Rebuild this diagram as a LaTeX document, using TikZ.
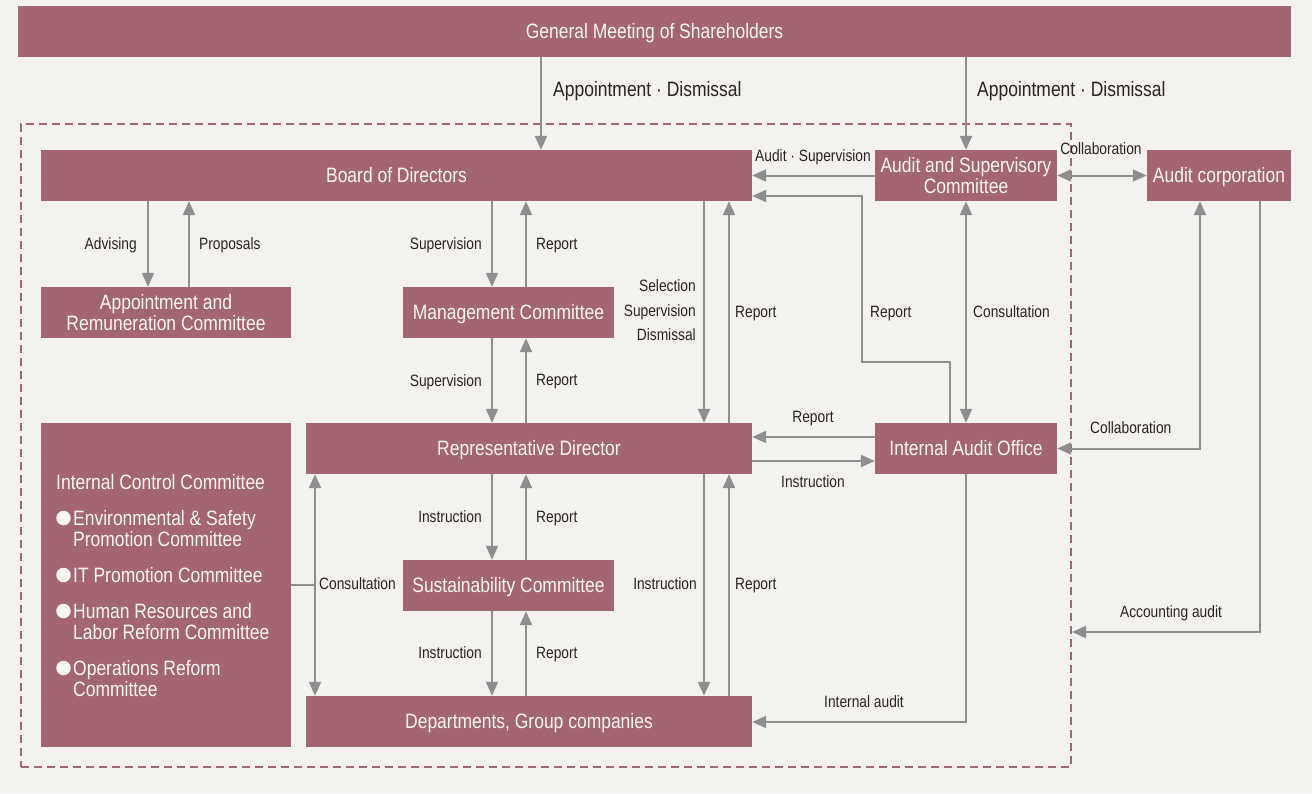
\documentclass[tikz,border=0pt]{standalone}
\usepackage{fontspec}
\setmainfont{Liberation Sans}[FakeStretch=0.84]
\usetikzlibrary{arrows.meta}
\definecolor{boxc}{HTML}{A36570}
\definecolor{bgc}{HTML}{F4F2EE}
\definecolor{arrc}{HTML}{8E8E8E}
\definecolor{txtc}{HTML}{2A2421}
\definecolor{wtxt}{HTML}{FAF6F4}
\begin{document}
\begin{tikzpicture}[x=1pt,y=-1pt,
  orgbox/.style={fill=boxc, text=wtxt, inner sep=0pt, font=\fontsize{20.8}{21}\selectfont, align=center},
  onel/.style={text height=14.9pt, text depth=0pt},
  lbl/.style={text=txtc, inner sep=0pt, font=\fontsize{16.4}{21}\selectfont, text height=11.7pt, text depth=0pt},
  lblbig/.style={text=txtc, inner sep=0pt, font=\fontsize{20.8}{21}\selectfont, text height=14.9pt, text depth=0pt},
  itemtxt/.style={text=wtxt, inner sep=0pt, font=\fontsize{20.8}{21}\selectfont, align=left, anchor=north west},
  bul/.style={circle, fill=wtxt, minimum size=14.5pt, inner sep=0pt},
  tipa/.tip={Triangle[length=14pt,width=12pt]},
  arr/.style={draw=arrc, line width=2pt, -tipa},
  darr/.style={draw=arrc, line width=2pt, tipa-tipa},
  ln/.style={draw=arrc, line width=2pt},
]
\useasboundingbox (0,0) rectangle (1312,793);
\fill[bgc] (0,0) rectangle (1312,793);

% dashed frame
\node[draw=boxc, line width=2pt, dash pattern=on 8pt off 5pt, minimum width=1050pt, minimum height=643pt, inner sep=0pt] (frame) at (546,445.5) {};

% boxes
\node[orgbox,onel,minimum width=1273pt,minimum height=51pt] (gm) at (654.5,31.5) {General Meeting of Shareholders};
\node[orgbox,onel,minimum width=711pt,minimum height=51pt] (bod) at (396.5,175.5) {Board of Directors};
\node[orgbox,minimum width=182pt,minimum height=51pt] (asc) at (966,175.5) {Audit and Supervisory\\Committee};
\node[orgbox,onel,minimum width=144pt,minimum height=51pt] (ac) at (1219,175.5) {Audit corporation};
\node[orgbox,minimum width=250pt,minimum height=51pt] (arc) at (166,312.5) {Appointment and\\Remuneration Committee};
\node[orgbox,onel,minimum width=211pt,minimum height=51pt] (mc) at (508.5,312.5) {Management Committee};
\node[orgbox,onel,minimum width=446pt,minimum height=51pt] (rd) at (529,448.5) {Representative Director};
\node[orgbox,onel,minimum width=182pt,minimum height=51pt] (iao) at (966,448.5) {Internal Audit Office};
\node[orgbox,minimum width=250pt,minimum height=324pt] (icc) at (166,585) {};
\node[orgbox,onel,minimum width=211pt,minimum height=51pt] (sc) at (508.5,585.5) {Sustainability Committee};
\node[orgbox,onel,minimum width=446pt,minimum height=51pt] (dep) at (529,721.5) {Departments, Group companies};

% internal control committee content
\node[lblbig,text=wtxt,anchor=west] (icct) at (56,482) {Internal Control Committee};
\node[bul] (b1) at (63.5,518) {};
\node[itemtxt] (i1) at (73,510.5) {Environmental \& Safety\\Promotion Committee};
\node[bul] (b2) at (63.5,575) {};
\node[itemtxt] (i2) at (73,567.5) {IT Promotion Committee};
\node[bul] (b3) at (63.5,611) {};
\node[itemtxt] (i3) at (73,603.5) {Human Resources and\\Labor Reform Committee};
\node[bul] (b4) at (63.5,668) {};
\node[itemtxt] (i4) at (73,660.5) {Operations Reform\\Committee};

% connectors
\draw[arr] (541,0 |- gm.south) -- (541,0 |- bod.north);
\draw[arr] (gm.south -| asc) -- (asc.north);
\draw[arr] (asc.west) -- (asc.west -| bod.east);
\draw[arr] (950,0 |- iao.north) -- (950,362) -- (862,362) -- (862,196) -- (862,196 -| bod.east);
\draw[darr] (asc.south) -- (iao.north);
\draw[darr] (asc.east) -- (ac.west);
\draw[darr] (1200,0 |- ac.south) -- (1200,0 |- iao.east) -- (iao.east);
\draw[arr] (1260,0 |- ac.south) -- (1260,632) -- (1260,632 -| frame.east);

\draw[arr] (148,0 |- bod.south) -- (148,0 |- arc.north);
\draw[arr] (189,0 |- arc.north) -- (189,0 |- bod.south);
\draw[arr] (492,0 |- bod.south) -- (492,0 |- mc.north);
\draw[arr] (526,0 |- mc.north) -- (526,0 |- bod.south);
\draw[arr] (492,0 |- mc.south) -- (492,0 |- rd.north);
\draw[arr] (526,0 |- rd.north) -- (526,0 |- mc.south);
\draw[arr] (704,0 |- bod.south) -- (704,0 |- rd.north);
\draw[arr] (729,0 |- rd.north) -- (729,0 |- bod.south);
\draw[arr] (iao.west |- 0,437) -- (rd.east |- 0,437);
\draw[arr] (rd.east |- 0,461) -- (iao.west |- 0,461);
\draw[arr] (492,0 |- rd.south) -- (492,0 |- sc.north);
\draw[arr] (526,0 |- sc.north) -- (526,0 |- rd.south);
\draw[arr] (492,0 |- sc.south) -- (492,0 |- dep.north);
\draw[arr] (526,0 |- dep.north) -- (526,0 |- sc.south);
\draw[arr] (704,0 |- rd.south) -- (704,0 |- dep.north);
\draw[arr] (729,0 |- dep.north) -- (729,0 |- rd.south);
\draw[ln] (icc.east |- 0,585) -- (315,585);
\draw[darr] (315,0 |- rd.south) -- (315,0 |- dep.north);
\draw[arr] (iao.south) -- (966,722) -- (dep.east |- 0,722);

% labels
\node[lblbig,anchor=west] (la1) at (553,89) {Appointment · Dismissal};
\node[lblbig,anchor=west] (la2) at (977,89) {Appointment · Dismissal};
\node[lbl] (lb1) at (813,156) {Audit · Supervision};
\node[lbl] (lc1) at (1101,149) {Collaboration};
\node[lbl,anchor=east] (ld1) at (137,244) {Advising};
\node[lbl,anchor=west] (ld2) at (199,244) {Proposals};
\node[lbl,anchor=east] (le1) at (482,244) {Supervision};
\node[lbl,anchor=west] (le2) at (536,244) {Report};
\node[lbl,anchor=east] (lf1) at (696,286) {Selection};
\node[lbl,anchor=east] (lf2) at (696,311) {Supervision};
\node[lbl,anchor=east] (lf3) at (696,335) {Dismissal};
\node[lbl,anchor=west] (lf4) at (735,312) {Report};
\node[lbl,anchor=west] (lg1) at (870,312) {Report};
\node[lbl,anchor=west] (lg2) at (973,312) {Consultation};
\node[lbl,anchor=east] (lh1) at (482,381) {Supervision};
\node[lbl,anchor=west] (lh2) at (536,380) {Report};
\node[lbl] (li1) at (813,417) {Report};
\node[lbl] (li2) at (813,482) {Instruction};
\node[lbl,anchor=west] (lc2) at (1090,428) {Collaboration};
\node[lbl,anchor=east] (lj1) at (482,517) {Instruction};
\node[lbl,anchor=west] (lj2) at (536,517) {Report};
\node[lbl,anchor=west] (lk1) at (319,584) {Consultation};
\node[lbl,anchor=east] (lk2) at (697,584) {Instruction};
\node[lbl,anchor=west] (lk3) at (735,584) {Report};
\node[lbl] (ll1) at (1171,612) {Accounting audit};
\node[lbl,anchor=east] (lm1) at (482,653) {Instruction};
\node[lbl,anchor=west] (lm2) at (536,653) {Report};
\node[lbl] (ln1) at (864,702) {Internal audit};
\end{tikzpicture}
\end{document}
